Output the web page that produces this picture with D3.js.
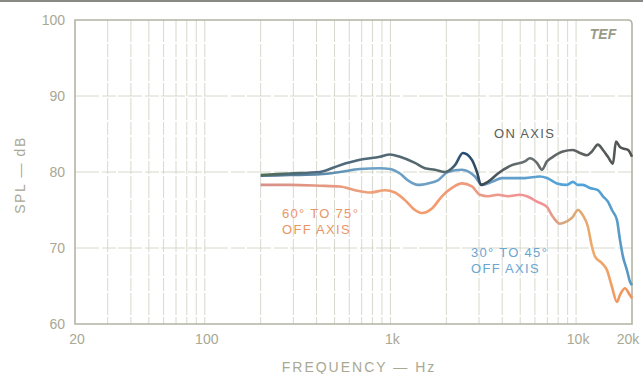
<!DOCTYPE html>
<html>
<head>
<meta charset="utf-8">
<script src="https://cdnjs.cloudflare.com/ajax/libs/d3/7.8.5/d3.min.js"></script>
<style>
  body { margin: 0; background: #fff; }
  svg text { font-family: "Liberation Sans", Arial, sans-serif; }
</style>
</head>
<body>
<div id="chart"></div>
<script>
// frequency points (Hz) and levels (dB)
const onFreq = [200, 288, 417, 535, 685, 878, 994, 1125, 1355, 1534, 1736, 1966, 2226, 2457, 2746, 2924, 3072, 3350, 3793, 4512, 5302, 5639, 6150, 6544, 6963, 7499, 8489, 9611, 10485, 11433, 12167, 13106, 13945, 14837, 15788, 16387, 17219, 17870, 19012, 20000];
const onDb   = [79.6, 79.8, 80.0, 80.9, 81.6, 82.0, 82.3, 82.0, 81.2, 80.5, 80.3, 80.0, 80.9, 82.5, 81.6, 80.0, 78.3, 78.7, 79.8, 80.9, 81.4, 81.8, 81.2, 80.3, 81.4, 82.0, 82.7, 82.9, 82.5, 82.2, 82.7, 83.6, 82.9, 82.0, 81.1, 84.0, 83.3, 83.1, 82.9, 82.0];

const midFreq = [200, 288, 417, 535, 685, 878, 994, 1125, 1242, 1407, 1592, 1802, 2040, 2427, 2851, 3110, 3520, 3986, 4683, 5302, 6383, 6963, 7882, 8923, 9611, 10228, 10879, 11868, 13106, 13945, 14837, 15593, 16592, 17219, 17870, 18778, 19486, 20000];
const midDb   = [79.5, 79.6, 79.7, 80.0, 80.4, 80.5, 80.4, 79.8, 78.9, 78.3, 78.5, 78.9, 80.0, 80.3, 79.4, 78.3, 78.7, 79.2, 79.2, 79.2, 79.4, 79.2, 78.5, 78.3, 78.7, 78.3, 78.3, 77.9, 77.6, 76.8, 76.1, 75.0, 73.7, 71.1, 68.9, 67.1, 65.6, 65.1];

const wideFreq = [200, 288, 417, 535, 644, 776, 934, 1057, 1197, 1355, 1478, 1673, 1894, 2144, 2427, 2746, 3034, 3350, 3793, 4293, 4982, 5433, 6150, 6963, 7499, 8179, 8923, 9611, 10228, 10879, 11577, 12167, 12626, 13772, 14653, 15593, 16592, 17219, 18318, 19486, 20000];
const wideDb   = [78.3, 78.3, 78.2, 78.1, 77.6, 77.3, 77.6, 77.3, 76.3, 75.0, 74.6, 75.2, 76.8, 77.9, 78.5, 78.1, 77.0, 76.8, 77.0, 76.8, 77.0, 76.8, 76.1, 75.4, 74.1, 73.2, 73.5, 74.1, 75.0, 74.3, 72.8, 70.2, 68.9, 68.0, 67.1, 64.9, 62.9, 63.8, 64.7, 63.8, 63.4];

const yTicks = [60, 70, 80, 90, 100];
const xTicks = [20, 100, 1000, 10000, 20000];
const xTickLabels = ["20", "100", "1k", "10k", "20k"];

const W = 643, H = 374;
const plotL = 75, plotR = 632, plotT = 20, plotB = 324;

const svg = d3.select("#chart").append("svg")
    .attr("width", W).attr("height", H);

const x = d3.scaleLog().domain([20, 20000]).range([plotL, plotR]);
const y = d3.scaleLinear().domain([60, 100]).range([plotB, plotT]);

const gridColor = "#d3d4c7";
const textColor = "#a9a893";

// scan edge at the very top
svg.append("line").attr("x1", 0).attr("x2", W).attr("y1", 1).attr("y2", 1)
   .attr("stroke", "#8a8a84").attr("stroke-width", 2);

// vertical grid: every 1..9 multiple of each decade
let gridF = [];
[10, 100, 1000, 10000].forEach(function(dec) {
    for (let m = 1; m <= 9; m++) {
        const f = dec * m;
        if (f > 20 && f < 20000) gridF.push(f);
    }
});
svg.append("g").selectAll("line").data(gridF).enter().append("line")
   .attr("x1", d => x(d)).attr("x2", d => x(d))
   .attr("y1", plotT).attr("y2", plotB)
   .attr("stroke", gridColor).attr("stroke-width", 0.9)
   .attr("stroke-dasharray", "22,2,13,2");

svg.append("g").selectAll("line").data([70, 80, 90]).enter().append("line")
   .attr("x1", plotL).attr("x2", plotR)
   .attr("y1", d => y(d)).attr("y2", d => y(d))
   .attr("stroke", gridColor).attr("stroke-width", 0.9)
   .attr("stroke-dasharray", "24,3,14,2");

// frame with rounded top-right corner
svg.append("path")
   .attr("d", "M" + plotL + "," + plotB + " V" + plotT + " H" + (plotR - 4) +
        " Q" + plotR + "," + plotT + " " + plotR + "," + (plotT + 4) + " V" + plotB + " Z")
   .attr("fill", "none").attr("stroke", "#b3b3a3").attr("stroke-width", 1.6);

// tick labels
svg.append("g").selectAll("text").data(yTicks).enter().append("text")
   .attr("x", 65).attr("y", d => y(d) + 5)
   .attr("text-anchor", "end").attr("font-size", 14).attr("fill", textColor)
   .text(d => d);

svg.append("g").selectAll("text").data(xTicks).enter().append("text")
   .attr("x", (d, i) => i === 4 ? x(d) - 4 : x(d) + 2).attr("y", 344)
   .attr("text-anchor", "middle").attr("font-size", 14).attr("fill", textColor)
   .text((d, i) => xTickLabels[i]);

svg.append("text")
   .attr("x", 359).attr("y", 372).attr("text-anchor", "middle")
   .attr("font-size", 14).attr("letter-spacing", 2).attr("fill", textColor)
   .text("FREQUENCY — Hz");

svg.append("text")
   .attr("transform", "translate(25,175) rotate(-90)")
   .attr("text-anchor", "middle")
   .attr("font-size", 14).attr("letter-spacing", 1.6).attr("fill", textColor)
   .text("SPL — dB");

svg.append("text")
   .attr("x", 603).attr("y", 39).attr("text-anchor", "middle")
   .attr("font-size", 14).attr("font-style", "italic").attr("font-weight", "bold")
   .attr("fill", "#9a9a88").text("TEF");

// colour gradients along x, like the printed curves
const defs = svg.append("defs");
function grad(id, stops) {
    const g = defs.append("linearGradient").attr("id", id)
        .attr("gradientUnits", "userSpaceOnUse")
        .attr("x1", x(200)).attr("x2", x(20000)).attr("y1", 0).attr("y2", 0);
    stops.forEach(s => g.append("stop").attr("offset", s[0]).attr("stop-color", s[1]));
}
grad("gOn", [[0, "#4f6e55"], [0.15, "#4f6a80"], [0.5, "#56686a"], [0.55, "#214c78"], [0.6, "#3c4a50"], [0.7, "#6a7072"], [1, "#4f5452"]]);
grad("gMid", [[0, "#4d6f8a"], [0.3, "#6da2c6"], [0.6, "#6a9cc4"], [0.85, "#4ea4dc"], [1, "#5a98c0"]]);
grad("gWide", [[0, "#d88f8a"], [0.3, "#eea07a"], [0.45, "#f49a68"], [0.6, "#ec9a88"], [0.75, "#f49098"], [0.82, "#d4a87a"], [0.9, "#eeaa6a"], [1, "#f0905a"]]);

const line = d3.line()
    .x(d => x(d[0])).y(d => y(d[1]))
    .curve(d3.curveMonotoneX);

const series = [
    { f: wideFreq, v: wideDb, c: "url(#gWide)" },
    { f: midFreq, v: midDb, c: "url(#gMid)" },
    { f: onFreq, v: onDb, c: "url(#gOn)" }
];
series.forEach(function(s) {
    svg.append("path")
       .datum(s.f.map((f, i) => [f, s.v[i]]))
       .attr("d", line)
       .attr("fill", "none").attr("stroke", s.c)
       .attr("stroke-width", 2.6).attr("stroke-linejoin", "round");
});

// curve labels
function label(lines, lx, ly, col) {
    lines.forEach(function(t, i) {
        svg.append("text").attr("x", lx).attr("y", ly + i * 16)
           .attr("font-size", 13).attr("letter-spacing", 1.3).attr("fill", col).text(t);
    });
}
label(["ON AXIS"], 494, 138, "#5a5c5a");
label(["30° TO 45°", "OFF AXIS"], 471, 257, "#6aa6cf");
label(["60° TO 75°", "OFF AXIS"], 282, 218, "#ea9566");
</script>
</body>
</html>
